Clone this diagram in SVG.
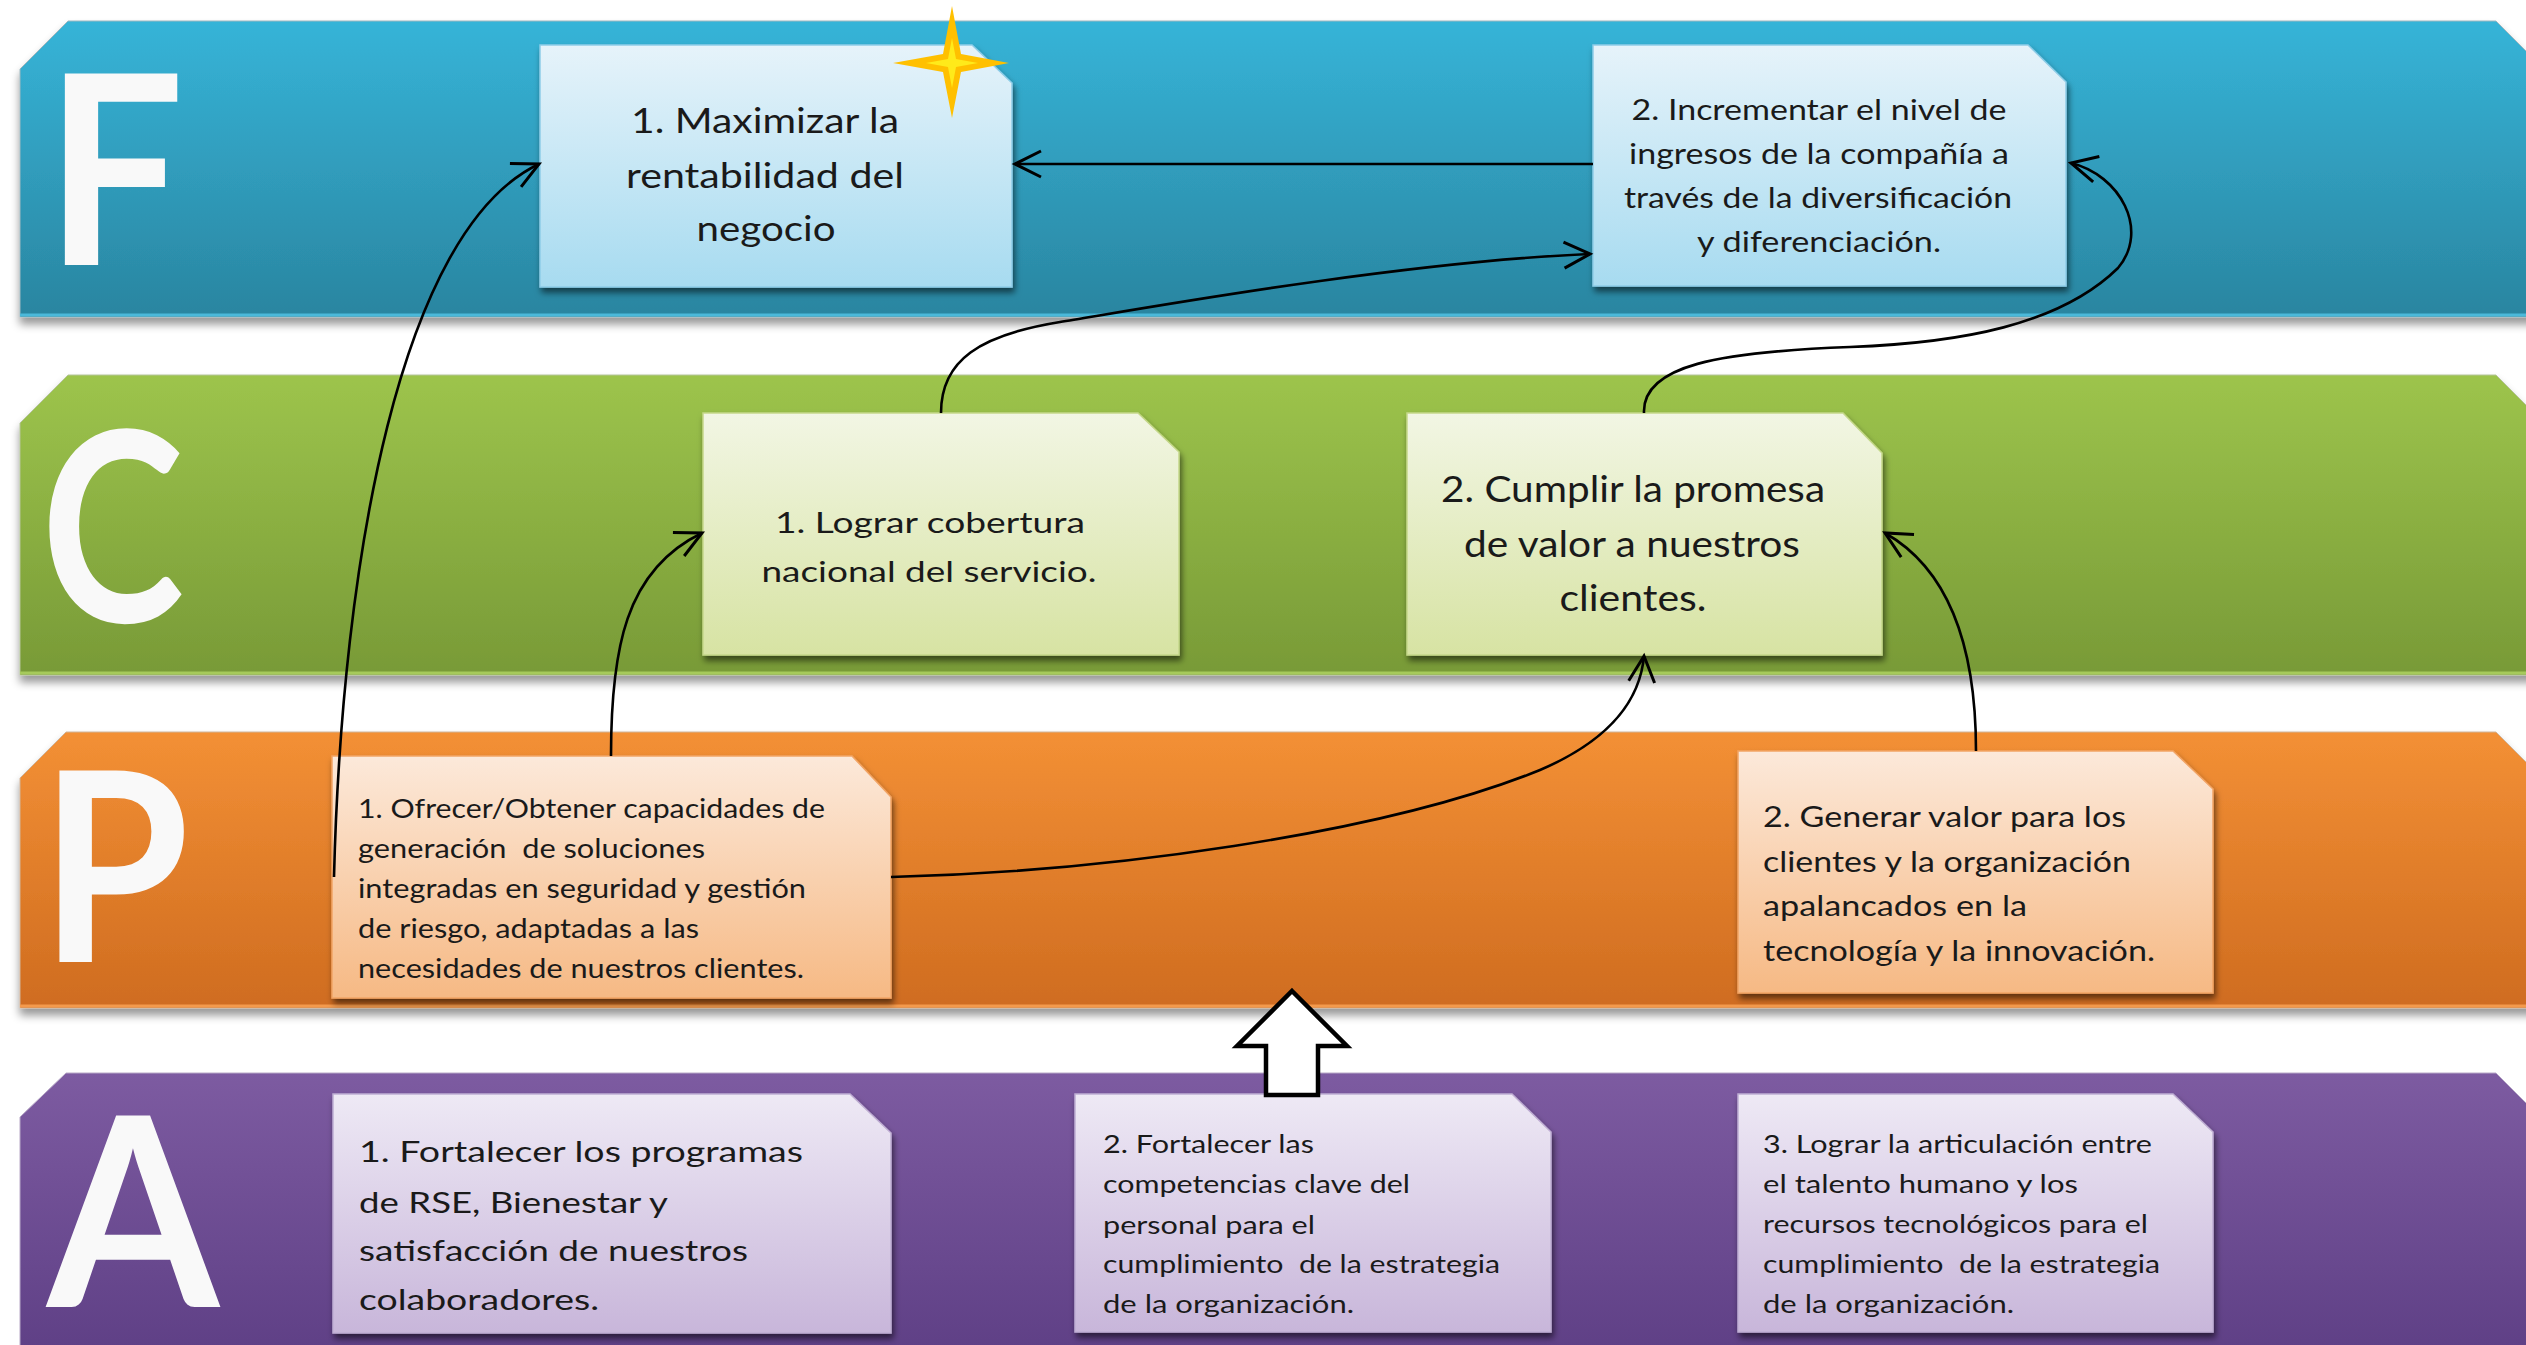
<svg xmlns="http://www.w3.org/2000/svg" width="2526" height="1345" viewBox="0 0 2526 1345">
<style>
.letter{font-family:Lato,"Liberation Sans",sans-serif;font-weight:700;font-size:265px;fill:#F9F9F9}
.t{font-family:Lato,"Liberation Sans",sans-serif;fill:#1a1a1a}
.c{text-anchor:middle}
.conn{fill:none;stroke:#000;stroke-width:2.6;marker-end:url(#arr)}
</style>
<defs>
<linearGradient id="gF" x1="0" y1="0" x2="0" y2="1"><stop offset="0" stop-color="#36B4D8"/><stop offset="1" stop-color="#2A85A0"/></linearGradient>
<linearGradient id="gC" x1="0" y1="0" x2="0" y2="1"><stop offset="0" stop-color="#9DC44C"/><stop offset="1" stop-color="#789A37"/></linearGradient>
<linearGradient id="gP" x1="0" y1="0" x2="0" y2="1"><stop offset="0" stop-color="#F39035"/><stop offset="1" stop-color="#CF6C20"/></linearGradient>
<linearGradient id="gA" x1="0" y1="0" x2="0" y2="1"><stop offset="0" stop-color="#7D5BA1"/><stop offset="1" stop-color="#5E3F85"/></linearGradient>
<linearGradient id="bF" x1="0" y1="0" x2="0" y2="1"><stop offset="0" stop-color="#E6F3FA"/><stop offset="1" stop-color="#A7DBF0"/></linearGradient>
<linearGradient id="bC" x1="0" y1="0" x2="0" y2="1"><stop offset="0" stop-color="#F2F6E4"/><stop offset="1" stop-color="#D7E3A3"/></linearGradient>
<linearGradient id="bP" x1="0" y1="0" x2="0" y2="1"><stop offset="0" stop-color="#FCE9DA"/><stop offset="1" stop-color="#F6B984"/></linearGradient>
<linearGradient id="bA" x1="0" y1="0" x2="0" y2="1"><stop offset="0" stop-color="#EEE9F5"/><stop offset="1" stop-color="#C8B6DA"/></linearGradient>
<filter id="bandShadow" x="-5%" y="-10%" width="110%" height="130%"><feDropShadow dx="0" dy="7" stdDeviation="4" flood-color="#000" flood-opacity="0.4"/></filter>
<filter id="boxShadow" x="-10%" y="-10%" width="120%" height="130%"><feDropShadow dx="2" dy="5" stdDeviation="3" flood-color="#000" flood-opacity="0.55"/></filter>
<marker id="arr" markerUnits="userSpaceOnUse" markerWidth="40" markerHeight="40" viewBox="-32 -20 36 40" refX="0" refY="0" orient="auto" overflow="visible">
<path d="M-26,-13 L0,0 L-26,13" fill="none" stroke="#000" stroke-width="3"/>
</marker>
</defs>

<rect width="2526" height="1345" fill="#fff"/>

<g id="band-F">
<path d="M68,21 L2496,21 L2546,71 L2546,317 L20,317 L20,69 Z" fill="url(#gF)" stroke="#9fb7bf" stroke-width="1" filter="url(#bandShadow)"/>
<line x1="20" y1="315" x2="2526" y2="315" stroke="#4BB9DA" stroke-width="3"/>
<text class="letter" transform="matrix(0.93,0,0,1,45,0)" x="0" y="265">F</text>
</g>
<g id="band-C">
<path d="M68,375 L2496,375 L2546,425 L2546,675 L20,675 L20,423 Z" fill="url(#gC)" stroke="#b5c49a" stroke-width="1" filter="url(#bandShadow)"/>
<line x1="20" y1="673" x2="2526" y2="673" stroke="#A6CA5B" stroke-width="3"/>
<text class="letter" transform="matrix(0.817,0,0,1,41,0)" x="0" y="622">C</text>
</g>
<g id="band-P">
<path d="M66,732 L2496,732 L2546,782 L2546,1008 L20,1008 L20,778 Z" fill="url(#gP)" stroke="#d0b59b" stroke-width="1" filter="url(#bandShadow)"/>
<line x1="20" y1="1006" x2="2526" y2="1006" stroke="#F49A4C" stroke-width="3"/>
<text class="letter" transform="matrix(0.91,0,0,1,40,0)" x="0" y="962">P</text>
</g>
<g id="band-A">
<path d="M66,1073 L2496,1073 L2546,1123 L2546,1360 L20,1360 L20,1117 Z" fill="url(#gA)" stroke="#b8a9c7" stroke-width="1"/>
<text class="letter" transform="matrix(0.935,0,0,1,47,0)" x="0" y="1307">A</text>
</g>

<g id="node-F1">
<path d="M540,45 L972,45 L1012,83 L1012,287 L540,287 Z" fill="url(#bF)" stroke="#8FCDE8" stroke-width="1.5" filter="url(#boxShadow)"/>
<text class="t c" font-size="35"><tspan x="765" y="133" textLength="268" lengthAdjust="spacingAndGlyphs">1. Maximizar la</tspan><tspan x="765" y="188" textLength="278" lengthAdjust="spacingAndGlyphs">rentabilidad del</tspan><tspan x="766" y="241" textLength="139" lengthAdjust="spacingAndGlyphs">negocio</tspan></text>
</g>
<g id="star">
<path d="M952,6 L961,54 L1009,63 L961,72 L952,118 L943,72 L893,63 L943,54 Z" fill="#FFC000"/>
<path d="M952,38 L956,59 L978,63 L956,67 L952,88 L948,67 L926,63 L948,59 Z" fill="#FFEA1A"/>
</g>
<g id="node-F2">
<path d="M1593,45 L2028,45 L2066,82 L2066,286 L1593,286 Z" fill="url(#bF)" stroke="#8FCDE8" stroke-width="1.5" filter="url(#boxShadow)"/>
<text class="t c" font-size="28"><tspan x="1819" y="120" textLength="375" lengthAdjust="spacingAndGlyphs">2. Incrementar el nivel de</tspan><tspan x="1819" y="164" textLength="380" lengthAdjust="spacingAndGlyphs">ingresos de la compañía a</tspan><tspan x="1818" y="208" textLength="388" lengthAdjust="spacingAndGlyphs">través de la diversificación</tspan><tspan x="1819" y="252" textLength="244" lengthAdjust="spacingAndGlyphs">y diferenciación.</tspan></text>
</g>

<g id="node-C1">
<path d="M703,413 L1138,413 L1179,452 L1179,655 L703,655 Z" fill="url(#bC)" stroke="#C5D88A" stroke-width="1.5" filter="url(#boxShadow)"/>
<text class="t c" font-size="28"><tspan x="930" y="533" textLength="310" lengthAdjust="spacingAndGlyphs">1. Lograr cobertura</tspan><tspan x="929" y="582" textLength="335" lengthAdjust="spacingAndGlyphs">nacional del servicio.</tspan></text>
</g>
<g id="node-C2">
<path d="M1407,413 L1843,413 L1882,453 L1882,655 L1407,655 Z" fill="url(#bC)" stroke="#C5D88A" stroke-width="1.5" filter="url(#boxShadow)"/>
<text class="t c" font-size="37"><tspan x="1633" y="502" textLength="384" lengthAdjust="spacingAndGlyphs">2. Cumplir la promesa</tspan><tspan x="1632" y="557" textLength="336" lengthAdjust="spacingAndGlyphs">de valor a nuestros</tspan><tspan x="1633" y="611" textLength="147" lengthAdjust="spacingAndGlyphs">clientes.</tspan></text>
</g>

<g id="node-P1">
<path d="M332,756 L852,756 L891,797 L891,998 L332,998 Z" fill="url(#bP)" stroke="#F2A566" stroke-width="1.5" filter="url(#boxShadow)"/>
<text class="t" font-size="26.5" xml:space="preserve"><tspan x="358" y="818" textLength="467" lengthAdjust="spacingAndGlyphs">1. Ofrecer/Obtener capacidades de</tspan><tspan x="358" y="858" textLength="347" lengthAdjust="spacingAndGlyphs">generación  de soluciones</tspan><tspan x="358" y="898" textLength="448" lengthAdjust="spacingAndGlyphs">integradas en seguridad y gestión</tspan><tspan x="358" y="938" textLength="341" lengthAdjust="spacingAndGlyphs">de riesgo, adaptadas a las</tspan><tspan x="358" y="978" textLength="446" lengthAdjust="spacingAndGlyphs">necesidades de nuestros clientes.</tspan></text>
</g>
<g id="node-P2">
<path d="M1738,751 L2173,751 L2213,789 L2213,993 L1738,993 Z" fill="url(#bP)" stroke="#F2A566" stroke-width="1.5" filter="url(#boxShadow)"/>
<text class="t" font-size="28"><tspan x="1763" y="827" textLength="363" lengthAdjust="spacingAndGlyphs">2. Generar valor para los</tspan><tspan x="1763" y="872" textLength="368" lengthAdjust="spacingAndGlyphs">clientes y la organización</tspan><tspan x="1763" y="916" textLength="264" lengthAdjust="spacingAndGlyphs">apalancados en la</tspan><tspan x="1763" y="961" textLength="392" lengthAdjust="spacingAndGlyphs">tecnología y la innovación.</tspan></text>
</g>

<g id="node-A1">
<path d="M333,1094 L850,1094 L891,1133 L891,1333 L333,1333 Z" fill="url(#bA)" stroke="#BFAED3" stroke-width="1.5" filter="url(#boxShadow)"/>
<text class="t" font-size="29"><tspan x="359" y="1162" textLength="444" lengthAdjust="spacingAndGlyphs">1. Fortalecer los programas</tspan><tspan x="359" y="1213" textLength="309" lengthAdjust="spacingAndGlyphs">de RSE, Bienestar y</tspan><tspan x="359" y="1261" textLength="389" lengthAdjust="spacingAndGlyphs">satisfacción de nuestros</tspan><tspan x="359" y="1310" textLength="240" lengthAdjust="spacingAndGlyphs">colaboradores.</tspan></text>
</g>
<g id="node-A2">
<path d="M1075,1094 L1512,1094 L1551,1132 L1551,1332 L1075,1332 Z" fill="url(#bA)" stroke="#BFAED3" stroke-width="1.5" filter="url(#boxShadow)"/>
<text class="t" font-size="25.5" xml:space="preserve"><tspan x="1103" y="1153" textLength="211" lengthAdjust="spacingAndGlyphs">2. Fortalecer las</tspan><tspan x="1103" y="1193" textLength="307" lengthAdjust="spacingAndGlyphs">competencias clave del</tspan><tspan x="1103" y="1234" textLength="212" lengthAdjust="spacingAndGlyphs">personal para el</tspan><tspan x="1103" y="1273" textLength="397" lengthAdjust="spacingAndGlyphs">cumplimiento  de la estrategia</tspan><tspan x="1103" y="1313" textLength="251" lengthAdjust="spacingAndGlyphs">de la organización.</tspan></text>
</g>
<g id="node-A3">
<path d="M1738,1094 L2173,1094 L2213,1132 L2213,1332 L1738,1332 Z" fill="url(#bA)" stroke="#BFAED3" stroke-width="1.5" filter="url(#boxShadow)"/>
<text class="t" font-size="25.5" xml:space="preserve"><tspan x="1763" y="1153" textLength="389" lengthAdjust="spacingAndGlyphs">3. Lograr la articulación entre</tspan><tspan x="1763" y="1193" textLength="315" lengthAdjust="spacingAndGlyphs">el talento humano y los</tspan><tspan x="1763" y="1233" textLength="385" lengthAdjust="spacingAndGlyphs">recursos tecnológicos para el</tspan><tspan x="1763" y="1273" textLength="397" lengthAdjust="spacingAndGlyphs">cumplimiento  de la estrategia</tspan><tspan x="1763" y="1313" textLength="251" lengthAdjust="spacingAndGlyphs">de la organización.</tspan></text>
</g>

<g id="block-arrow">
<path d="M1292,991 L1347,1046 L1318,1046 L1318,1095 L1266,1095 L1266,1046 L1237,1046 Z" fill="#fff" stroke="#000" stroke-width="4.5" stroke-linejoin="miter"/>
</g>

<g id="connectors">
<path class="conn" d="M334,877 C342,560 400,230 539,164"/>
<path class="conn" d="M1593,164 L1015,164"/>
<path class="conn" d="M941,413 C941,360 980,335 1060,322 C1140,309 1400,262 1590,254"/>
<path class="conn" d="M1644,413 C1642,365 1720,352 1850,347 C1960,343 2060,325 2118,268 C2150,230 2120,175 2071,163"/>
<path class="conn" d="M611,756 C611,650 625,570 702,533"/>
<path class="conn" d="M891,877 C1100,872 1380,835 1540,770 C1610,740 1640,700 1644,656"/>
<path class="conn" d="M1976,751 C1976,650 1950,570 1885,533"/>
</g>
</svg>
